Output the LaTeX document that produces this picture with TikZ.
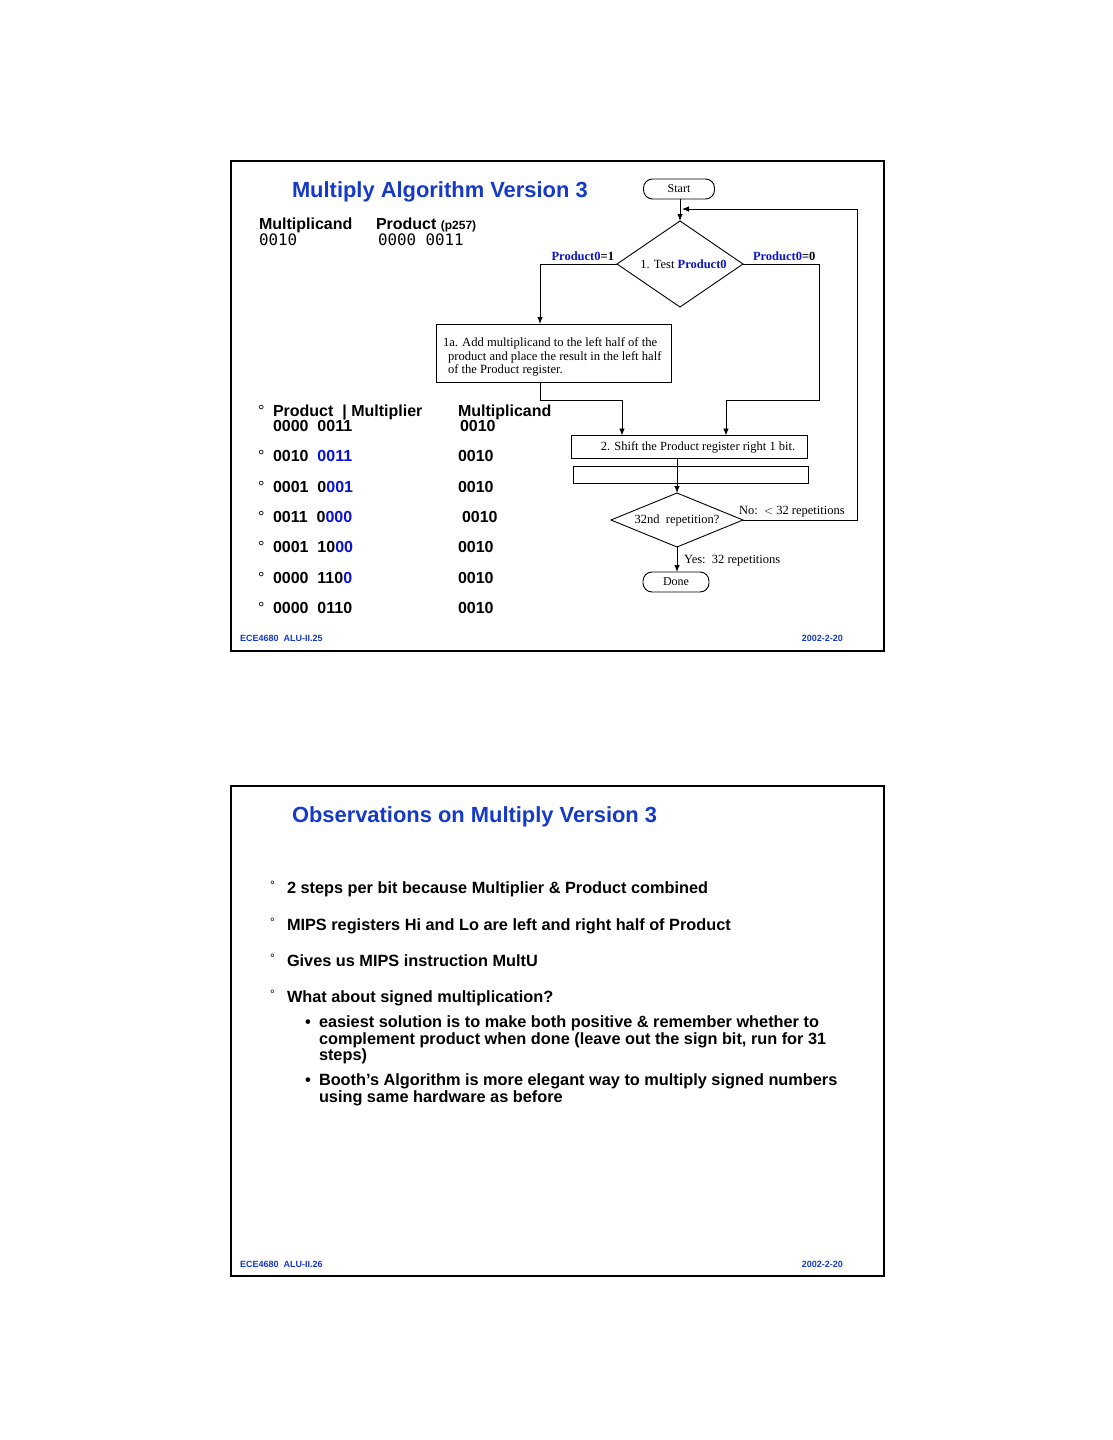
\documentclass[tikz,border=0pt]{standalone}
\usepackage{fontspec}
\usepackage{graphicx}
\setmainfont{Liberation Sans}
\newfontfamily\tms{Liberation Serif}
\newfontfamily\monof{DejaVu Sans Mono}
\usetikzlibrary{shapes.geometric,arrows.meta}
\definecolor{ttlblue}{RGB}{22,58,200}
\definecolor{hl}{RGB}{8,16,220}
\definecolor{fcblue}{RGB}{10,20,200}
\begin{document}
\begin{tikzpicture}[x=1pt,y=-1pt,
  every node/.style={inner sep=0pt, outer sep=0pt},
  slideframe/.style={draw, line width=1.8pt},
  ttl/.style={font=\fontsize{21.9}{24}\selectfont\bfseries, text=ttlblue, anchor=base west},
  body/.style={font=\fontsize{16}{18}\selectfont\bfseries, anchor=base west},
  tblbul/.style={font=\fontsize{16}{18}\selectfont, anchor=base west},
  monotxt/.style={font=\monof\fontsize{15.8}{18}\selectfont, anchor=base west},
  obs/.style={font=\fontsize{16.3}{18}\selectfont\bfseries, anchor=base west},
  obsbul/.style={font=\fontsize{12}{14}\selectfont, anchor=base west},
  foot/.style={font=\fontsize{9}{10}\selectfont\bfseries, text=ttlblue, anchor=base west},
  term/.style={draw, line width=0.9pt, rounded corners=9pt, minimum width=71pt, minimum height=20pt, font=\tms\fontsize{12}{14}\selectfont},
  dec/.style={draw, line width=0.9pt, diamond, font=\tms\fontsize{12.5}{14}\selectfont},
  proc/.style={draw, line width=1pt, rectangle, font=\tms\fontsize{12.5}{14}\selectfont},
  boxtxt/.style={font=\tms\fontsize{12.6}{14}\selectfont, anchor=base west},
  lbl/.style={font=\tms\fontsize{12.5}{14}\selectfont},
  blbl/.style={font=\tms\fontsize{12.5}{14}\selectfont\bfseries},
  arr/.style={draw, line width=0.9pt, -{Latex[length=7pt,width=5.5pt]}}
]
\useasboundingbox (0,0) rectangle (1113,1440);
\fill[white] (0,0) rectangle (1113,1440);

% ---------------- Slide 1 ----------------
\draw[slideframe] (231,161) rectangle (884,651);
\node[ttl] (t1) at (292,197) {Multiply Algorithm Version 3};
\node[body] (hmc) at (259,229) {Multiplicand};
\node[body] (hpr) at (376,229) {Product {\fontsize{12}{13}\selectfont(p257)}};
\node[monotxt] (vmc) at (259,245) {0010};
\node[monotxt] (vpr) at (378,245) {0000 0011};

% flowchart
\node[term] (start) at (679,189) {Start};
\node[dec, shape aspect=1.46, minimum width=126pt, minimum height=86pt] (d1) at (680,264) {\hspace*{7pt}1. Test {\fontsize{12.5}{14}\selectfont\bfseries\color{fcblue}Product0}};
\node[blbl, anchor=base east] (p1) at (614,260) {{\color{fcblue}Product0}=1};
\node[blbl, anchor=base west] (p0) at (753,260) {{\color{fcblue}Product0}=0};
\node[proc, minimum width=235pt, minimum height=58pt] (b1) at (553.5,353) {};
\node[boxtxt] (b1l1) at (443,346) {1a. Add multiplicand to the left half of the};
\node[boxtxt] (b1l2) at (448,360) {product and place the result in the left half};
\node[boxtxt] (b1l3) at (448,373) {of the Product register.};
\node[proc, minimum width=236pt, minimum height=23pt] (b2) at (689,447) {\hspace*{18pt}2. Shift the Product register right 1 bit.};
\node[proc, minimum width=235pt, minimum height=17pt] (b3) at (690.5,474.5) {};
\node[dec, shape aspect=2.44, minimum width=132pt, minimum height=54pt] (d2) at (677,520) {32nd\ \ repetition?};
\node[term, minimum width=66pt] (done) at (676,582) {Done};
\node[lbl, anchor=base west] (nolbl) at (739,514) {No:\ \ $<$ 32 repetitions};
\node[lbl, anchor=base west] (yeslbl) at (684,563) {Yes:\ \ 32 repetitions};
\coordinate (loopin) at (682,209);

\draw[arr] (start.south -| d1.north) -- (d1.north);
\draw[arr] (d1.west) -| ([xshift=-13.5pt]b1.north);
\draw[arr] ([xshift=-13.5pt]b1.south) -- ++(0,18) -| ([xshift=-67pt]b2.north);
\draw[arr] (d1.east) -- ++(76,0) -- ++(0,136) -| ([xshift=37pt]b2.north);
\draw[arr] (b2.south -| d2.north) -- (d2.north);
\draw[arr] (d2.east) -- ++(114,0) |- (loopin);
\draw[arr] (d2.south) -- (d2.south |- done.north);

% table
\node[tblbul] (bu1) at (258,416) {°};
\node[body] (r1a) at (273,416) {Product\ \ | Multiplier};
\node[body] (r1b) at (273,431) {0000\ \ 0011};
\node[body] (r1c) at (458,416) {Multiplicand};
\node[body] (r1d) at (460,431) {0010};

\node[tblbul] (bu2) at (258,461) {°};
\node[body] (r2a) at (273,461) {0010\ \ {\color{hl}0011}};
\node[body] (r2b) at (458,461) {0010};
\node[tblbul] (bu3) at (258,492) {°};
\node[body] (r3a) at (273,492) {0001\ \ 0{\color{hl}001}};
\node[body] (r3b) at (458,492) {0010};
\node[tblbul] (bu4) at (258,522) {°};
\node[body] (r4a) at (273,522) {0011\ \ 0{\color{hl}000}};
\node[body] (r4b) at (462,522) {0010};
\node[tblbul] (bu5) at (258,552) {°};
\node[body] (r5a) at (273,552) {0001\ \ 10{\color{hl}00}};
\node[body] (r5b) at (458,552) {0010};
\node[tblbul] (bu6) at (258,583) {°};
\node[body] (r6a) at (273,583) {0000\ \ 110{\color{hl}0}};
\node[body] (r6b) at (458,583) {0010};
\node[tblbul] (bu7) at (258,613) {°};
\node[body] (r7a) at (273,613) {0000\ \ 0110};
\node[body] (r7b) at (458,613) {0010};

\node[foot] (f1a) at (240,641) {ECE4680\ \ ALU-II.25};
\node[foot, anchor=base east] (f1b) at (843,641) {2002-2-20};

% ---------------- Slide 2 ----------------
\draw[slideframe, line width=1.5pt] (231,786) rectangle (884,1276);
\node[ttl] (t2) at (292,822) {Observations on Multiply Version 3};

\node[obsbul] (o1b) at (270,889) {°};
\node[obs] (o1) at (287,893) {2 steps per bit because Multiplier \& Product combined};
\node[obsbul] (o2b) at (270,926) {°};
\node[obs] (o2) at (287,930) {MIPS registers Hi and Lo are left and right half of Product};
\node[obsbul] (o3b) at (270,962) {°};
\node[obs] (o3) at (287,966) {Gives us MIPS instruction MultU};
\node[obsbul] (o4b) at (270,998) {°};
\node[obs] (o4) at (287,1002) {What about signed multiplication?};

\node[obs] (s1b) at (305,1027) {•};
\node[obs] (s1a) at (319,1027) {easiest solution is to make both positive \& remember whether to};
\node[obs] (s1c) at (319,1044) {complement product when done (leave out the sign bit, run for 31};
\node[obs] (s1d) at (319,1060) {steps)};
\node[obs] (s2b) at (305,1085) {•};
\node[obs] (s2a) at (319,1085) {Booth’s Algorithm is more elegant way to multiply signed numbers};
\node[obs] (s2c) at (319,1102) {using same hardware as before};

\node[foot] (f2a) at (240,1267) {ECE4680\ \ ALU-II.26};
\node[foot, anchor=base east] (f2b) at (843,1267) {2002-2-20};
\end{tikzpicture}
\end{document}
